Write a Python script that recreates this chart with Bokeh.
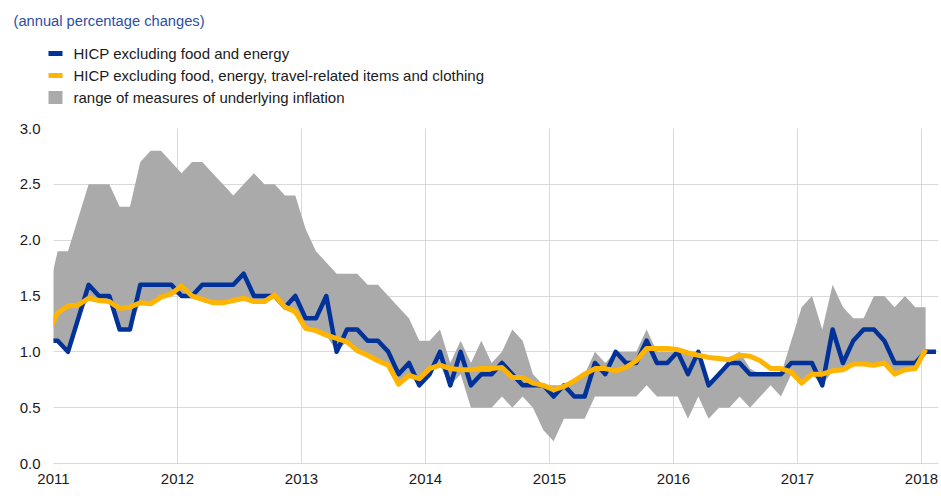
import numpy as np
import pandas as pd
from bokeh.plotting import figure
from bokeh.layouts import column
from bokeh.models import (ColumnDataSource, FixedTicker, Range1d, NumeralTickFormatter)
from bokeh.core.properties import value
from bokeh.embed import file_html
from bokeh.resources import INLINE

# monthly observations, Dec 2010 .. Feb 2018
months = pd.date_range("2010-12-01", "2018-02-01", freq="MS")

# HICP excluding food and energy (Dec 2010 .. Feb 2018)
core = [1.1,
        1.1, 1.0, 1.3, 1.6, 1.5, 1.5, 1.2, 1.2, 1.6, 1.6, 1.6, 1.6,
        1.5, 1.5, 1.6, 1.6, 1.6, 1.6, 1.7, 1.5, 1.5, 1.5, 1.4, 1.5,
        1.3, 1.3, 1.5, 1.0, 1.2, 1.2, 1.1, 1.1, 1.0, 0.8, 0.9, 0.7,
        0.8, 1.0, 0.7, 1.0, 0.7, 0.8, 0.8, 0.9, 0.8, 0.7, 0.7, 0.7,
        0.6, 0.7, 0.6, 0.6, 0.9, 0.8, 1.0, 0.9, 0.9, 1.1, 0.9, 0.9,
        1.0, 0.8, 1.0, 0.7, 0.8, 0.9, 0.9, 0.8, 0.8, 0.8, 0.8, 0.9,
        0.9, 0.9, 0.7, 1.2, 0.9, 1.1, 1.2, 1.2, 1.1, 0.9, 0.9, 0.9,
        1.0, 1.0]

# HICP excluding food, energy, travel-related items and clothing (Dec 2010 .. Jan 2018)
core_x = [1.15,
          1.35, 1.41, 1.42, 1.48, 1.46, 1.45, 1.39, 1.40, 1.44, 1.43, 1.49, 1.52,
          1.59, 1.50, 1.47, 1.44, 1.44, 1.46, 1.48, 1.45, 1.45, 1.51, 1.40, 1.36,
          1.21, 1.19, 1.15, 1.12, 1.09, 1.01, 0.97, 0.92, 0.88, 0.71, 0.79, 0.76,
          0.85, 0.88, 0.85, 0.84, 0.84, 0.85, 0.85, 0.86, 0.77, 0.77, 0.72, 0.70,
          0.66, 0.69, 0.74, 0.80, 0.85, 0.85, 0.83, 0.86, 0.92, 1.03, 1.03, 1.03,
          1.02, 0.99, 0.97, 0.95, 0.94, 0.93, 0.97, 0.96, 0.92, 0.85, 0.85, 0.82,
          0.72, 0.80, 0.80, 0.83, 0.84, 0.89, 0.89, 0.88, 0.90, 0.80, 0.84, 0.85,
          1.02]

# range of measures of underlying inflation: upper bound (Dec 2010 .. Jan 2018)
range_hi = [1.5,
            1.9, 1.9, 2.2, 2.5, 2.5, 2.5, 2.3, 2.3, 2.7, 2.8, 2.8, 2.7,
            2.6, 2.7, 2.7, 2.6, 2.5, 2.4, 2.5, 2.6, 2.5, 2.5, 2.4, 2.4,
            2.1, 1.9, 1.8, 1.7, 1.7, 1.7, 1.6, 1.6, 1.5, 1.4, 1.3, 1.1,
            1.1, 1.2, 0.9, 1.1, 0.9, 1.1, 0.9, 1.0, 1.2, 1.1, 0.8, 0.7,
            0.7, 0.7, 0.75, 0.8, 1.0, 0.9, 1.0, 1.0, 1.0, 1.2, 1.0, 1.0,
            1.0, 1.0, 1.0, 0.7, 0.8, 0.95, 1.0, 0.85, 0.8, 0.8, 0.8, 1.1,
            1.4, 1.5, 1.2, 1.6, 1.4, 1.3, 1.3, 1.5, 1.5, 1.4, 1.5, 1.4,
            1.4]

# range of measures of underlying inflation: lower bound (Dec 2010 .. Jan 2018)
range_lo = [1.1,
            1.1, 1.0, 1.3, 1.48, 1.46, 1.45, 1.2, 1.2, 1.44, 1.43, 1.49, 1.52,
            1.5, 1.5, 1.47, 1.44, 1.44, 1.46, 1.48, 1.45, 1.45, 1.5, 1.4, 1.36,
            1.21, 1.19, 1.15, 1.0, 1.09, 1.01, 0.97, 0.92, 0.88, 0.71, 0.79, 0.7,
            0.8, 0.88, 0.7, 0.8, 0.5, 0.5, 0.5, 0.6, 0.5, 0.6, 0.5, 0.3,
            0.2, 0.4, 0.4, 0.4, 0.6, 0.6, 0.6, 0.6, 0.6, 0.7, 0.6, 0.6,
            0.6, 0.4, 0.6, 0.4, 0.5, 0.5, 0.6, 0.5, 0.6, 0.7, 0.6, 0.8,
            0.72, 0.8, 0.7, 0.83, 0.84, 0.89, 0.89, 0.88, 0.9, 0.8, 0.84, 0.85,
            1.0]

year_ticks = [2011, 2012, 2013, 2014, 2015, 2016, 2017, 2018]
value_ticks = [0.0, 0.5, 1.0, 1.5, 2.0, 2.5, 3.0]

title_text = "(annual percentage changes)"
legend_labels = ["HICP excluding food and energy",
                 "HICP excluding food, energy, travel-related items and clothing",
                 "range of measures of underlying inflation"]

FONT = "Liberation Sans"
BLUE = "#003299"
YELLOW = "#FFB400"
GREY = "#AAAAAA"
GRID = "#D9D9D9"
TXT = "#1a1a1a"
W = 940
HEAD_H = 116

# ---------------- header (title + legend) ----------------
head = figure(width=W, height=HEAD_H, output_backend="svg", toolbar_location=None,
              x_range=Range1d(0, W), y_range=Range1d(HEAD_H, 0),
              x_axis_location=None, y_axis_location=None, min_border=0,
              frame_align=False)
head.outline_line_color = None
head.xgrid.visible = False
head.ygrid.visible = False

head.text(x=[13], y=[20], text=[title_text], text_baseline="middle",
          text_align="left", text_font=value(FONT), text_font_size="14.7px",
          text_color="#2C4FA3")

row_y = [53, 75, 97]
sw_h = [5, 5, 13]
sw_col = [BLUE, YELLOW, GREY]
head.rect(x=[55, 55, 55], y=row_y, width=[14, 14, 14], height=sw_h,
          fill_color=sw_col, line_color=None)
head.text(x=[73, 73, 73], y=row_y, text=legend_labels, text_baseline="middle",
          text_align="left", text_font=value(FONT), text_font_size="15px",
          text_color=TXT)

# ---------------- chart ----------------
xpos = np.asarray(months.year + (months.month - 1 + 0.4) / 12.0, dtype=float)

src_core = ColumnDataSource(dict(x=xpos[:len(core)], y=core))
src_corex = ColumnDataSource(dict(x=xpos[:len(core_x)], y=core_x))
src_rng = ColumnDataSource(dict(x=xpos[:len(range_hi)], hi=range_hi, lo=range_lo))

p = figure(width=W, height=384, output_backend="svg", toolbar_location=None,
           x_range=Range1d(2011, 2011 + (W - 2 - 53) / 124.0), y_range=Range1d(0, 3),
           min_border_left=53, min_border_right=2, min_border_top=12,
           min_border_bottom=37, frame_align=False)
p.outline_line_color = None

p.varea(x="x", y1="lo", y2="hi", source=src_rng, fill_color=GREY)
p.line(x="x", y="y", source=src_core, line_color=BLUE, line_width=4.5,
       line_join="round")
p.line(x="x", y="y", source=src_corex, line_color=YELLOW, line_width=5,
       line_join="round")

p.xaxis.ticker = FixedTicker(ticks=year_ticks)
p.yaxis.ticker = FixedTicker(ticks=value_ticks)
p.yaxis.formatter = NumeralTickFormatter(format="0.0")
p.xgrid.ticker = FixedTicker(ticks=year_ticks)
p.ygrid.ticker = FixedTicker(ticks=value_ticks)
for g in (p.xgrid, p.ygrid):
    g.grid_line_color = GRID
    g.grid_line_width = 1
for ax in (p.xaxis, p.yaxis):
    ax.major_tick_in = 0
    ax.major_tick_out = 0
    ax.minor_tick_in = 0
    ax.minor_tick_out = 0
    ax.major_label_text_font = FONT
    ax.major_label_text_font_size = "15px"
    ax.major_label_text_color = TXT
p.yaxis.axis_line_color = None
p.xaxis.axis_line_color = GRID
p.yaxis.major_label_standoff = 13
p.xaxis.major_label_standoff = 10

layout = column(head, p, spacing=0)
open("out.html", "w").write(file_html(layout, INLINE))
